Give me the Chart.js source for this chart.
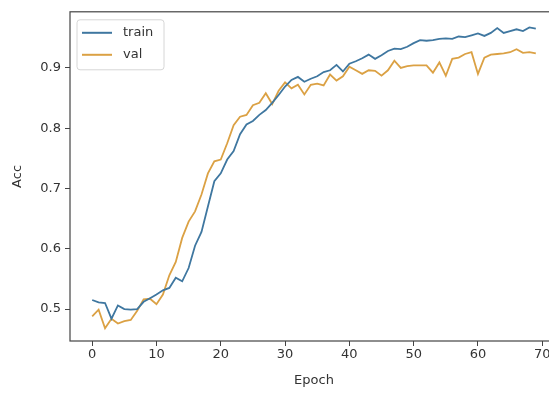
<!DOCTYPE html>
<html>
<head>
<meta charset="utf-8">
<script src="https://cdn.jsdelivr.net/npm/chart.js@4.4.1/dist/chart.umd.min.js"></script>
<style>
  html, body { margin: 0; padding: 0; background: #fff; overflow: hidden; }
  #wrap { width: 580px; height: 394px; position: relative; }
</style>
</head>
<body>
<div id="wrap"><canvas id="chart-acc"></canvas></div>
<script>
// accuracy per epoch
const trainAcc = [
    0.515, 0.511, 0.510, 0.484, 0.506, 0.500, 0.499, 0.500, 0.512, 0.518,
    0.524, 0.531, 0.535, 0.552, 0.546, 0.568, 0.605, 0.628, 0.670, 0.712,
    0.725, 0.748, 0.762, 0.790, 0.806, 0.812, 0.822, 0.830, 0.842, 0.855,
    0.869, 0.880, 0.885, 0.877, 0.882, 0.886, 0.893, 0.896, 0.905, 0.894,
    0.907, 0.911, 0.916, 0.922, 0.915, 0.921, 0.928, 0.932, 0.931, 0.935,
    0.941, 0.946, 0.945, 0.946, 0.948, 0.949, 0.948, 0.952, 0.951, 0.954,
    0.957, 0.953, 0.958, 0.966, 0.958, 0.961, 0.964, 0.961, 0.967, 0.965
];
const valAcc = [
    0.488, 0.499, 0.468, 0.484, 0.476, 0.480, 0.482, 0.497, 0.516, 0.517,
    0.508, 0.524, 0.556, 0.578, 0.618, 0.645, 0.662, 0.690, 0.725, 0.745,
    0.748, 0.775, 0.805, 0.819, 0.822, 0.838, 0.842, 0.858, 0.840, 0.862,
    0.876, 0.866, 0.872, 0.856, 0.872, 0.874, 0.871, 0.889, 0.879, 0.886,
    0.902, 0.896, 0.890, 0.896, 0.895, 0.887, 0.896, 0.912, 0.900, 0.903,
    0.904, 0.904, 0.904, 0.892, 0.909, 0.887, 0.915, 0.917, 0.923, 0.926,
    0.890, 0.917, 0.922, 0.923, 0.924, 0.926, 0.931, 0.925, 0.926, 0.924
];
const seriesNames = ['train', 'val'];
const xTicks = [0, 10, 20, 30, 40, 50, 60, 70];
const yTicks = [0.5, 0.6, 0.7, 0.8, 0.9];

const FONT = "'DejaVu Sans', sans-serif";
const TXT = '#333';
const SPINE = '#444';

const toPoints = arr => arr.map((v, i) => ({ x: i, y: v }));

// frame + legend drawn inside the axes, matplotlib style
const mplFrame = {
    id: 'mplFrame',
    afterDraw(chart) {
        const { ctx, chartArea: a } = chart;
        ctx.save();
        ctx.strokeStyle = SPINE;
        ctx.lineWidth = 1.2;
        ctx.strokeRect(a.left, a.top, a.right - a.left, a.bottom - a.top);

        const bx = a.left + 7, by = a.top + 8, bw = 87, bh = 50;
        ctx.beginPath();
        ctx.roundRect(bx, by, bw, bh, 3);
        ctx.fillStyle = 'rgba(255,255,255,0.85)';
        ctx.fill();
        ctx.strokeStyle = '#d6d6d6';
        ctx.lineWidth = 1;
        ctx.stroke();

        ctx.font = '13px ' + FONT;
        ctx.textBaseline = 'middle';
        chart.data.datasets.forEach((ds, k) => {
            const y = by + 13 + k * 22;
            ctx.beginPath();
            ctx.moveTo(bx + 5, y);
            ctx.lineTo(bx + 35, y);
            ctx.strokeStyle = ds.borderColor;
            ctx.lineWidth = 2;
            ctx.stroke();
            ctx.fillStyle = TXT;
            ctx.fillText(ds.label, bx + 46, y);
        });
        ctx.restore();
    }
};

const ctx = document.getElementById('chart-acc').getContext('2d');
new Chart(ctx, {
    type: 'line',
    data: {
        datasets: [
            { label: seriesNames[0], data: toPoints(trainAcc), borderColor: '#3f77a0', borderWidth: 1.8, pointRadius: 0, tension: 0 },
            { label: seriesNames[1], data: toPoints(valAcc), borderColor: '#dba144', borderWidth: 1.8, pointRadius: 0, tension: 0 }
        ]
    },
    options: {
        responsive: true,
        maintainAspectRatio: false,
        animation: false,
        layout: { padding: { left: 0, top: 7, right: 22, bottom: 0 } },
        plugins: { legend: { display: false }, tooltip: { enabled: false } },
        scales: {
            x: {
                type: 'linear',
                min: -3.45, max: 72.45,
                afterBuildTicks: s => { s.ticks = xTicks.map(v => ({ value: v })); },
                afterFit: s => { s.height = 53; },
                grid: { drawOnChartArea: false, tickLength: 5, color: SPINE },
                border: { display: false },
                ticks: { color: TXT, font: { family: FONT, size: 13 }, padding: 1, maxRotation: 0 },
                title: { display: true, text: 'Epoch', color: TXT, font: { family: FONT, size: 13 }, padding: { top: 0, bottom: 6 } }
            },
            y: {
                min: 0.447, max: 0.993,
                afterBuildTicks: s => { s.ticks = yTicks.map(v => ({ value: v })); },
                afterFit: s => { s.width = 70; },
                grid: { drawOnChartArea: false, tickLength: 5, color: SPINE },
                border: { display: false },
                ticks: { color: TXT, font: { family: FONT, size: 13 }, padding: 4, callback: v => v.toFixed(1) },
                title: { display: true, text: 'Acc', color: TXT, font: { family: FONT, size: 13 }, padding: { top: 10, bottom: 4 } }
            }
        }
    },
    plugins: [mplFrame]
});
</script>
</body>
</html>
